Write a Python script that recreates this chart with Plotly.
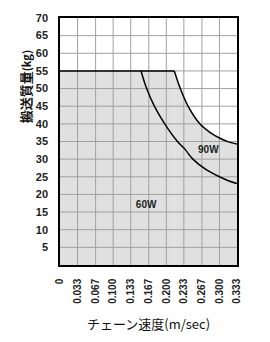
import plotly.graph_objects as go

# ---- data ----
x_ticks = [0, 0.033, 0.067, 0.100, 0.133, 0.167, 0.200, 0.233, 0.267, 0.300, 0.333]
x_tick_labels = ["0", "0.033", "0.067", "0.100", "0.133", "0.167", "0.200", "0.233", "0.267", "0.300", "0.333"]
y_ticks = [5, 10, 15, 20, 25, 30, 35, 40, 45, 50, 55, 60, 65, 70]
y_tick_labels = [str(v) for v in y_ticks]
max_load = 55
w90_speed = [0.2151, 0.2264, 0.2409, 0.2630, 0.2820, 0.3000, 0.3170, 0.333]
w90_load = [55, 50, 45, 40, 37.6, 36.0, 34.9, 34.3]
w60_speed = [0.1524, 0.1631, 0.1775, 0.197, 0.221, 0.2357, 0.250, 0.275, 0.300, 0.318, 0.333]
w60_load = [55, 50, 45, 40, 35, 32.7, 30, 27, 25, 23.8, 23.1]
labels = ["90W", "60W"]
label_x = [0.279, 0.162]
label_y = [32.4, 17.0]

x_max = x_ticks[-1]
y_max = y_ticks[-1]
flat_x = [0, w90_speed[0]]
flat_y = [max_load, max_load]

FILL = "#e0e0e0"
SPL = dict(shape="spline", smoothing=1.0)

fig = go.Figure()

# gray allowable region: flat part + 90W curve part
fig.add_trace(go.Scatter(x=flat_x, y=flat_y, mode="lines", fill="tozeroy",
                         fillcolor=FILL, line=dict(width=0),
                         hoverinfo="skip", showlegend=False))
fig.add_trace(go.Scatter(x=w90_speed, y=w90_load, mode="lines", fill="tozeroy",
                         fillcolor=FILL, line=dict(width=0, **SPL),
                         hoverinfo="skip", showlegend=False))

# grid lines drawn over the fill
gx, gy = [], []
for v in x_ticks[1:-1]:
    gx += [v, v, None]
    gy += [0, y_max, None]
for v in y_ticks[:-1]:
    gx += [0, x_max, None]
    gy += [v, v, None]
fig.add_trace(go.Scatter(x=gx, y=gy, mode="lines", line=dict(color="#a0a0a0", width=1),
                         hoverinfo="skip", showlegend=False))

# 55 kg limit line and 90W curve
fig.add_trace(go.Scatter(x=flat_x, y=flat_y, mode="lines",
                         line=dict(color="black", width=1.5), showlegend=False))
fig.add_trace(go.Scatter(x=w90_speed, y=w90_load, mode="lines",
                         line=dict(color="black", width=1.5, **SPL), showlegend=False))
# 60W curve
fig.add_trace(go.Scatter(x=w60_speed, y=w60_load, mode="lines",
                         line=dict(color="black", width=1.5, **SPL), showlegend=False))

fig.add_trace(go.Scatter(x=label_x, y=label_y, mode="text", text=labels,
                         textfont=dict(family="Liberation Sans", size=10, color="#222", weight="bold"),
                         showlegend=False))

fig.update_xaxes(range=[0, x_max], tickvals=x_ticks, ticktext=x_tick_labels, tickangle=-90,
                 showgrid=False, zeroline=False, showline=True, mirror=True, linecolor="black",
                 linewidth=1.5, ticks="outside", ticklen=8, tickcolor="rgba(0,0,0,0)",
                 tickfont=dict(family="Liberation Sans", size=10, color="#222", weight="bold"),
                 title=dict(text="チェーン速度(m/sec)", standoff=17,
                            font=dict(family="Noto Sans CJK JP", size=13, color="#111")))
fig.update_yaxes(range=[0, y_max], tickvals=y_ticks, ticktext=y_tick_labels,
                 showgrid=False, zeroline=False, showline=True, mirror=True, linecolor="black",
                 linewidth=1.5, ticks="outside", ticklen=8, tickcolor="rgba(0,0,0,0)",
                 tickfont=dict(family="Liberation Sans", size=11, color="#222", weight="bold"))

fig.add_annotation(text="搬送質量<span style='font-size:11px'>(kg)</span>", textangle=-90,
                   xref="paper", yref="paper", x=-0.198, y=0.723, showarrow=False,
                   xanchor="center", yanchor="middle",
                   font=dict(family="Noto Sans CJK JP", size=13, color="#111", weight="bold"))

fig.update_layout(width=270, height=342, margin=dict(l=60, r=33, t=17, b=75),
                  paper_bgcolor="white", plot_bgcolor="white")

fig.write_html("out.html")
